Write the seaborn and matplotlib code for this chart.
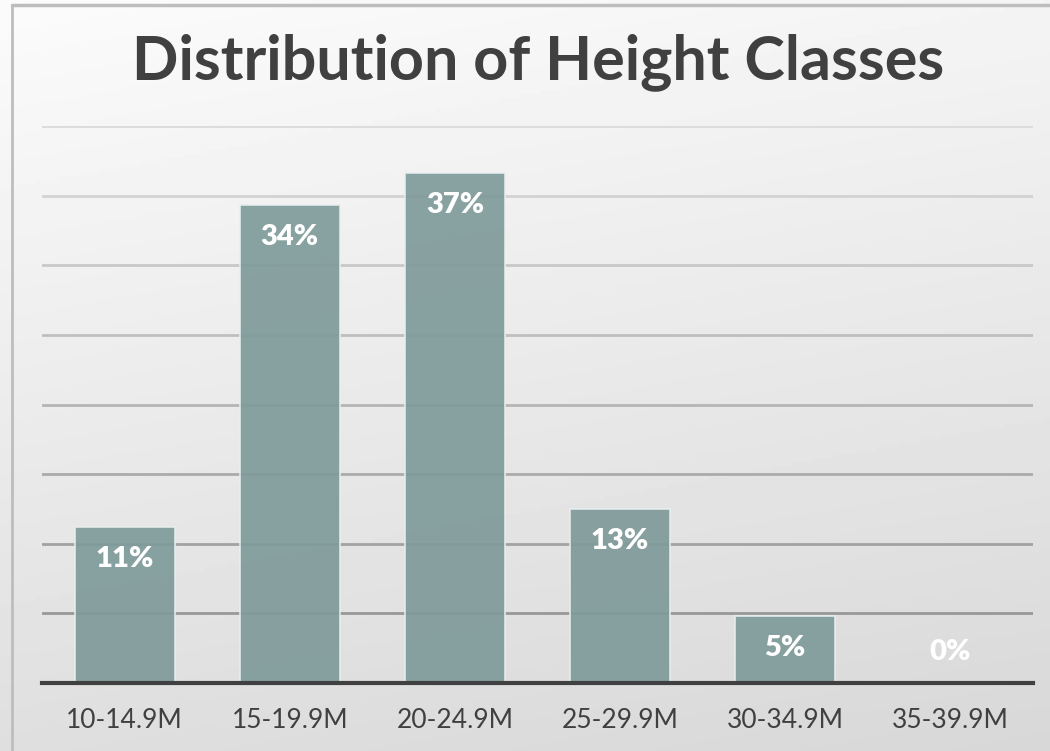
import numpy as np
import pandas as pd
import matplotlib
matplotlib.use("Agg")
import matplotlib.pyplot as plt
import seaborn as sns

# 数据
classes = ['10-14.9M', '15-19.9M', '20-24.9M', '25-29.9M', '30-34.9M', '35-39.9M']
shares = [11.2, 34.3, 36.6, 12.5, 4.8, 0.0]
labels = ['11%', '34%', '37%', '13%', '5%', '0%']

df = pd.DataFrame({'class': classes, 'share': shares})

sns.set_theme(style='white')
plt.rcParams['font.family'] = ['Lato', 'DejaVu Sans']

fig = plt.figure(figsize=(10.5, 7.51), dpi=100)

# 背景渐变
bg = fig.add_axes([0, 0, 1, 1], zorder=-10)
yy, xx = np.mgrid[0:1:200j, 0:1:200j]
grad = 0.985 - 0.14 * (0.8 * yy + 0.2 * xx)
bg.imshow(grad, cmap='gray', vmin=0, vmax=1, aspect='auto', extent=[0, 1, 0, 1], origin='upper')
bg.plot([12 / 1050, 12 / 1050], [0, 1 - 5 / 751], color='#bdbdbd', lw=2, transform=bg.transAxes)
bg.plot([12 / 1050, 1], [1 - 5 / 751, 1 - 5 / 751], color='#bdbdbd', lw=2.5, transform=bg.transAxes)
bg.set_xlim(0, 1)
bg.set_ylim(0, 1)
bg.axis('off')

ax = fig.add_axes([42 / 1050, 1 - 683 / 751, (1033 - 42) / 1050, (683 - 126) / 751])
ax.patch.set_alpha(0)

# 网格线（上浅下深）
grid_vals = np.arange(5, 41, 5)
for g in grid_vals:
    t = g / 40
    c = 0.56 + 0.3 * t
    ax.axhline(g, color=(c, c, c), lw=2, zorder=0)

sns.barplot(data=df, x='class', y='share', color='#7f9b9a', width=0.606,
            saturation=1, alpha=0.92, edgecolor='#e8eeee', linewidth=1.2,
            ax=ax, zorder=2)

ax.set_ylim(0, 40)
ax.set_xlim(-0.5, 5.5)
ax.set_xlabel('')
ax.set_ylabel('')
ax.set_yticks([])
for s in ['top', 'right', 'left']:
    ax.spines[s].set_visible(False)
ax.spines['bottom'].set_color('#404040')
ax.spines['bottom'].set_linewidth(3)
ax.spines['bottom'].set_zorder(5)
ax.tick_params(axis='x', length=0, pad=18, labelsize=19, labelcolor='#404040')

# 数据标签
for i, (v, lab) in enumerate(zip(shares, labels)):
    off = -23 if v > 0 else 22
    ax.annotate(lab, (i, v), xytext=(0, off), textcoords='offset points',
                ha='center', va='center', color='white', fontsize=21,
                fontweight='heavy', zorder=6)

fig.text(538 / 1050, 1 - 62 / 751, 'Distribution of Height Classes',
         ha='center', va='center', fontsize=44, fontweight='bold', color='#404040')

fig.savefig('out.png', dpi=100)
